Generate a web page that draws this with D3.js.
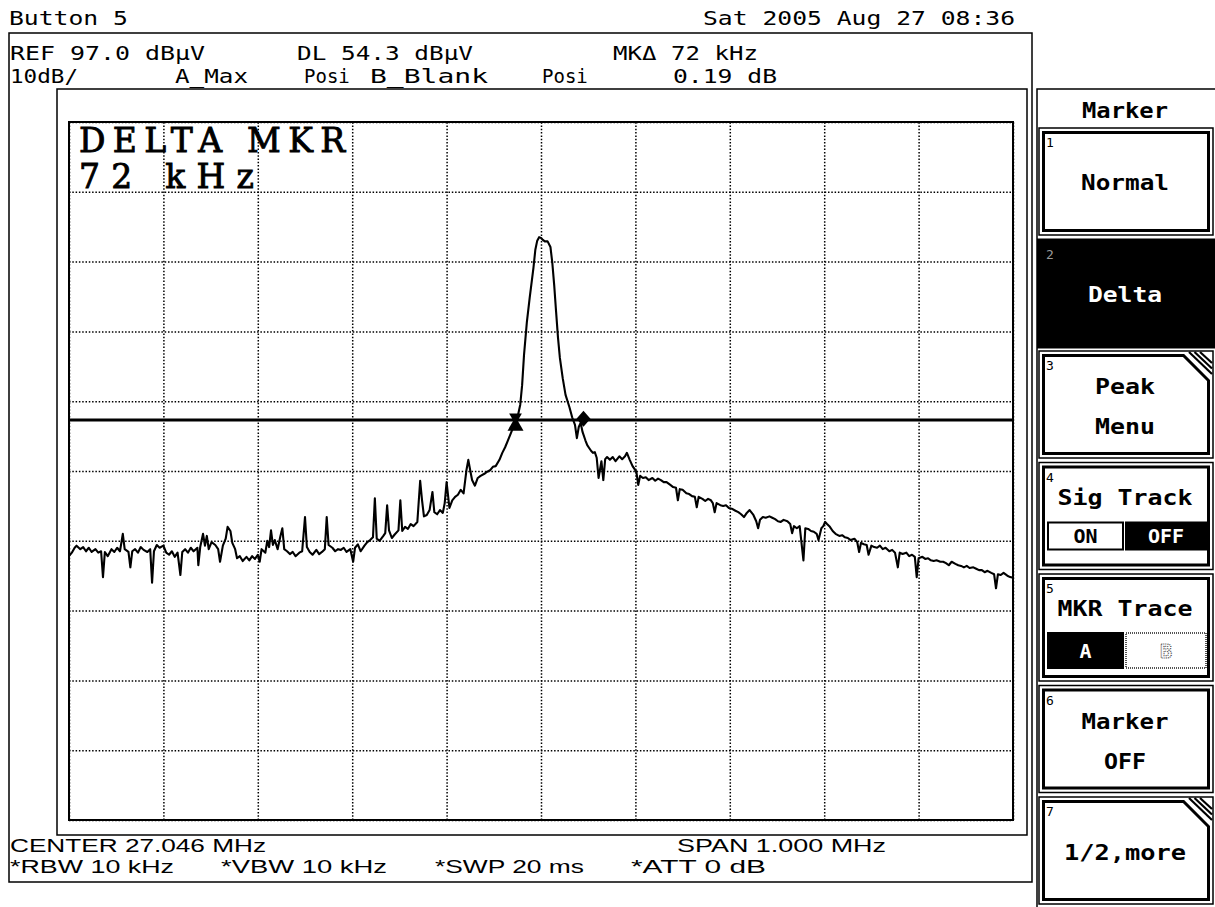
<!DOCTYPE html>
<html><head><meta charset="utf-8">
<script src="https://cdn.jsdelivr.net/npm/d3@7"></script>
<style>body{margin:0;background:#fff}svg{display:block}</style>
</head><body><svg id="c" width="1215" height="907"></svg>
<script>
// ---------- data ----------
const refLevel = 97.0;          // dBµV, top of screen
const dbPerDiv = 10;
const yDivisions = 10;
const xDivisions = 10;
const centerMHz = 27.046;
const spanKHz = 1000;
const displayLine = 54.3;       // DL, dBµV
const markerRef = [-27, 54.3];     // [offset kHz, dBµV]
const markerDelta = [45, 54.49];   // 72 kHz / 0.19 dB from ref
// trace A : [offset from center (kHz), level (dBµV)]
const traceA = [[-500,34.8],[-497,35.3],[-494,36.0],[-492,36.3],[-488,35.8],[-485,36.1],[-482,35.5],[-479,36.0],[-476,35.4],[-472,35.8],[-469,35.3],[-466,35.5],[-464,31.8],[-462,35.4],[-459,34.8],[-455,35.8],[-452,35.4],[-449,36.0],[-446,35.5],[-443,38.0],[-441,35.8],[-437,35.4],[-435,33.2],[-433,35.5],[-430,35.8],[-427,35.3],[-424,36.1],[-421,35.7],[-417,35.4],[-414,35.8],[-412,31.0],[-410,35.5],[-407,36.4],[-404,36.0],[-400,36.3],[-397,35.3],[-394,35.0],[-391,35.5],[-388,34.7],[-385,35.3],[-382,32.1],[-380,35.4],[-377,35.8],[-374,35.3],[-371,36.0],[-368,35.5],[-364,36.0],[-363,33.5],[-361,36.1],[-358,38.0],[-356,36.3],[-354,37.7],[-352,35.8],[-349,36.8],[-345,36.4],[-342,35.8],[-340,34.0],[-337,36.3],[-334,37.3],[-332,39.0],[-329,38.4],[-327,36.7],[-324,35.8],[-322,34.5],[-319,34.8],[-316,34.1],[-312,34.7],[-309,34.2],[-306,34.8],[-303,34.4],[-300,35.0],[-298,34.0],[-296,35.8],[-292,35.3],[-290,37.0],[-288,36.1],[-286,38.5],[-284,36.4],[-282,37.1],[-279,35.8],[-276,37.7],[-274,38.8],[-272,35.8],[-269,35.5],[-266,35.1],[-263,35.4],[-260,34.8],[-256,35.3],[-253,35.5],[-250,40.4],[-248,36.1],[-245,35.4],[-242,35.0],[-238,35.7],[-235,35.1],[-232,35.4],[-229,35.8],[-227,40.4],[-225,36.4],[-221,36.0],[-218,35.5],[-215,35.8],[-212,35.7],[-209,36.0],[-206,35.4],[-202,35.8],[-199,34.0],[-197,36.0],[-194,36.5],[-191,35.5],[-187,36.3],[-184,36.8],[-181,37.1],[-178,37.5],[-176,43.1],[-174,37.3],[-171,37.0],[-167,37.7],[-165,38.1],[-163,42.1],[-161,38.5],[-158,37.4],[-155,37.9],[-151,38.5],[-149,42.8],[-147,38.4],[-144,39.0],[-141,38.7],[-138,39.4],[-135,39.1],[-131,39.7],[-128,45.6],[-126,42.8],[-124,40.5],[-121,40.7],[-118,41.4],[-115,44.0],[-113,41.1],[-110,40.8],[-107,41.4],[-104,41.0],[-102,42.4],[-100,45.4],[-97,41.7],[-94,42.8],[-91,43.3],[-88,43.6],[-85,44.3],[-82,43.8],[-79,47.1],[-77,48.6],[-75,47.1],[-73,45.7],[-70,44.9],[-67,46.0],[-64,46.3],[-60,46.6],[-57,46.9],[-54,47.1],[-51,47.6],[-48,47.7],[-44,48.6],[-41,49.6],[-38,50.4],[-35,51.4],[-32,52.4],[-29,53.4],[-25,54.6],[-22,56.5],[-20,59.3],[-18,63.6],[-15,68.3],[-12,71.8],[-8,76.1],[-6,78.7],[-4,80.0],[-2,80.5],[0,80.4],[2,80.1],[4,79.9],[7,79.9],[10,79.1],[12,76.8],[14,73.6],[16,69.8],[18,66.1],[20,63.2],[23,60.3],[26,57.9],[30,56.2],[33,54.7],[36,53.6],[38,51.7],[40,53.3],[42,53.9],[44,52.6],[47,51.4],[49,50.7],[51,50.3],[53,49.9],[55,49.6],[57,49.7],[59,48.9],[61,46.0],[64,48.4],[66,45.7],[68,48.7],[70,49.0],[73,48.6],[76,49.0],[79,48.4],[83,49.1],[86,48.7],[89,49.1],[91,49.6],[94,48.6],[97,47.7],[101,46.9],[103,45.0],[105,46.3],[108,46.0],[111,46.1],[114,45.7],[118,46.0],[121,45.6],[124,45.9],[127,45.7],[130,45.4],[133,45.4],[137,45.0],[140,44.7],[143,44.6],[145,42.8],[147,44.4],[150,44.3],[154,43.8],[157,43.7],[160,43.4],[163,43.3],[165,41.8],[167,43.3],[171,43.0],[174,42.7],[177,43.0],[180,42.8],[182,42.4],[184,41.1],[186,42.4],[190,42.1],[193,42.0],[196,42.1],[199,41.7],[202,41.6],[206,41.3],[209,41.1],[212,40.8],[215,40.4],[218,41.0],[221,41.4],[225,40.7],[228,39.8],[230,38.8],[232,40.0],[235,40.4],[238,40.3],[242,40.5],[245,40.3],[248,40.1],[251,39.8],[254,39.7],[257,40.0],[261,39.8],[264,39.4],[266,38.1],[268,39.1],[271,38.8],[274,39.1],[278,34.2],[280,38.8],[283,38.7],[286,38.4],[289,38.3],[292,38.0],[294,37.1],[297,38.8],[299,39.1],[301,39.7],[303,39.4],[306,39.0],[309,38.4],[312,38.0],[316,37.7],[319,37.8],[322,37.5],[325,37.4],[328,37.1],[332,37.3],[335,36.8],[337,35.4],[339,36.7],[342,36.5],[345,36.4],[347,35.0],[350,36.3],[353,36.1],[356,36.0],[359,36.3],[362,35.8],[365,36.0],[369,35.5],[372,35.7],[375,35.3],[378,33.2],[380,35.3],[383,35.1],[387,35.3],[390,34.8],[393,35.0],[396,34.7],[398,31.8],[400,34.5],[404,34.7],[407,34.4],[410,34.5],[413,34.2],[416,34.1],[419,34.2],[423,34.0],[426,34.0],[429,33.8],[432,33.5],[435,34.0],[439,33.7],[442,33.5],[445,33.4],[448,33.2],[451,33.4],[454,33.1],[458,33.2],[461,33.0],[464,32.8],[467,32.8],[470,32.5],[473,32.7],[477,32.4],[480,32.2],[482,30.2],[484,32.2],[487,32.1],[490,32.4],[494,32.0],[497,31.8],[500,31.7]];

const headerLabels = [
  ["Button 5", 9, 25, 119], ["Sat 2005 Aug 27 08:36", 703, 25, 312],
  ["REF 97.0 dBµV", 10, 60, 195], ["DL 54.3 dBµV", 297, 60, 176], ["MKΔ 72 kHz", 613, 60, 145],
  ["10dB/", 10, 83, 68], ["A_Max", 175, 83, 73], ["Posi", 304, 83, 0],
  ["B_Blank", 370, 83, 118], ["Posi", 542, 83, 0], ["0.19 dB", 673, 83, 104]
];
const footerLabels = [
  ["CENTER 27.046 MHz", 10, 852, 256], ["SPAN 1.000 MHz", 677, 852, 209],
  ["*RBW 10 kHz", 10, 873, 164], ["*VBW 10 kHz", 221, 873, 166],
  ["*SWP 20 ms", 435, 873, 149], ["*ATT 0 dB", 631, 873, 135]
];
const panelTitle = "Marker";
const softKeys = [
  {n:"1", lines:["Normal"]},
  {n:"2", lines:["Delta"], active:true},
  {n:"3", lines:["Peak","Menu"], more:true},
  {n:"4", lines:["Sig Track"], toggle:["ON","OFF"], sel:1},
  {n:"5", lines:["MKR Trace"], toggle:["A","B"], sel:0},
  {n:"6", lines:["Marker","OFF"]},
  {n:"7", lines:["1/2,more"], more:true}
];

// ---------- drawing ----------
const svg = d3.select("#c");
const P = {l:69, r:1013, t:122, b:820};
const x = d3.scaleLinear().domain([-spanKHz/2, spanKHz/2]).range([P.l, P.r]);
const y = d3.scaleLinear().domain([refLevel - dbPerDiv*yDivisions, refLevel]).range([P.b, P.t]);
const MONO = "'DejaVu Sans Mono', monospace";

function txt(s, tx, ty, o = {}) {
  const t = svg.append("text").attr("x", tx).attr("y", ty).text(s)
    .attr("font-family", o.family || MONO).attr("font-size", o.size || 19)
    .attr("font-weight", o.weight || "normal").attr("fill", o.fill || "#000")
    .attr("text-anchor", o.anchor || "start");
  if (o.len) t.attr("textLength", o.len).attr("lengthAdjust", o.adj || "spacingAndGlyphs");
  if (o.ls) t.attr("letter-spacing", o.ls);
  return t;
}

// frames
svg.append("rect").attr("x", 9).attr("y", 33).attr("width", 1023).attr("height", 849)
  .attr("fill", "none").attr("stroke", "#000").attr("stroke-width", 1.5);
svg.append("rect").attr("x", 57).attr("y", 89).attr("width", 970).attr("height", 746)
  .attr("fill", "none").attr("stroke", "#000").attr("stroke-width", 1.5);

// grid via axes
const xTicks = d3.range(xDivisions + 1).map(i => -spanKHz/2 + i*spanKHz/xDivisions);
const yTicks = d3.range(yDivisions + 1).map(i => refLevel - i*dbPerDiv);
const gx = svg.append("g").attr("transform", `translate(0,${P.b})`)
  .call(d3.axisBottom(x).tickValues(xTicks).tickSize(-(P.b - P.t)).tickFormat(""));
const gy = svg.append("g").attr("transform", `translate(${P.l},0)`)
  .call(d3.axisLeft(y).tickValues(yTicks).tickSize(-(P.r - P.l)).tickFormat(""));
[gx, gy].forEach(g => {
  g.select(".domain").remove();
  g.selectAll(".tick line").attr("stroke", "#000").attr("stroke-width", 1.5).attr("stroke-dasharray", "1.5,1.8");
});

// plot border
svg.append("rect").attr("x", P.l).attr("y", P.t).attr("width", P.r - P.l).attr("height", P.b - P.t)
  .attr("fill", "none").attr("stroke", "#000").attr("stroke-width", 2);

// display line
svg.append("line").attr("x1", P.l).attr("x2", P.r).attr("y1", y(displayLine)).attr("y2", y(displayLine))
  .attr("stroke", "#000").attr("stroke-width", 3);

// trace
svg.append("path").datum(traceA)
  .attr("d", d3.line().x(d => x(d[0])).y(d => y(d[1])))
  .attr("fill", "none").attr("stroke", "#000").attr("stroke-width", 2.1).attr("stroke-linejoin", "round");

// markers
{
  const cx = x(markerRef[0]), cy = y(markerRef[1]);
  svg.append("path").attr("d", d3.symbol(d3.symbolTriangle, 110)())
    .attr("transform", `translate(${cx},${cy+6})`).attr("fill", "#000");
  svg.append("path").attr("d", d3.symbol(d3.symbolTriangle, 70)())
    .attr("transform", `translate(${cx},${cy-3}) rotate(180)`).attr("fill", "#000");
  const dx = x(markerDelta[0]), dy = y(markerDelta[1]);
  svg.append("path").attr("d", `M${dx},${dy-8}L${dx+7},${dy}L${dx},${dy+8}L${dx-7},${dy}Z`).attr("fill", "#000");
}

// big delta marker readout
txt("DELTA MKR", 79, 152, {family: "'DejaVu Serif', serif", size: 33, len: 266, adj: "spacing"})
  .attr("stroke", "#000").attr("stroke-width", 0.9);
txt("72 kHz", 79, 188, {family: "'DejaVu Serif', serif", size: 33, len: 175, adj: "spacing"})
  .attr("stroke", "#000").attr("stroke-width", 0.9);

// header / footer texts
headerLabels.forEach(d => txt(d[0], d[1], d[2], {len: d[3] || null, size: 19}));
footerLabels.forEach(d => txt(d[0], d[1], d[2], {len: d[3], size: 19, family: "'Liberation Sans', sans-serif"}));

// side panel
svg.append("path").attr("d", "M1037,907V89H1215").attr("fill", "none").attr("stroke", "#000").attr("stroke-width", 1.5);
txt(panelTitle, 1125, 118, {anchor: "middle", size: 21, len: 86, weight: "bold"});

const BX0 = 1039, BX1 = 1213, BH = 107, BT0 = 128, BSTEP = 111.5;
softKeys.forEach((k, i) => {
  const T = BT0 + i*BSTEP, B = T + BH;
  if (k.active) {
    svg.append("rect").attr("x", 1037).attr("y", T - 1).attr("width", 178).attr("height", BH + 3).attr("fill", "#000");
  } else {
    svg.append("rect").attr("x", BX0).attr("y", T).attr("width", BX1 - BX0).attr("height", BH)
      .attr("fill", "#fff").attr("stroke", "#000").attr("stroke-width", 1.5);
    const ix0 = BX0 + 4.5, ix1 = BX1 - 4.5, iy0 = T + 4.5, iy1 = B - 4.5;
    let d;
    if (k.more) {
      d = `M${ix0},${iy0}H${ix1-25}L${ix1},${iy0+25}V${iy1}H${ix0}Z`;
      for (let s = 1; s <= 3; s++) {
        const o = s*5.5;
        svg.append("line").attr("x1", ix1 - 25 + o).attr("y1", iy0 - 3.5).attr("x2", ix1 + 3.5).attr("y2", iy0 + 25 - o - 1)
          .attr("stroke", "#000").attr("stroke-width", 2.2);
      }
    } else {
      d = `M${ix0},${iy0}H${ix1}V${iy1}H${ix0}Z`;
    }
    svg.append("path").attr("d", d).attr("fill", "none").attr("stroke", "#000").attr("stroke-width", 3);
  }
  const fg = k.active ? "#fff" : "#000";
  txt(k.n, 1046, T + 19, {size: 13, fill: k.active ? "#999" : "#000"});
  const cxm = 1125;
  if (k.toggle) {
    txt(k.lines[0], cxm, T + 42, {anchor: "middle", size: 21, len: 135, weight: "bold"});
    k.toggle.forEach((lab, j) => {
      const bx = j === 0 ? 1048 : 1126, bw = j === 0 ? 75 : 80;
      const by = k.n === "4" ? T + 60 : T + 59, bh = k.n === "4" ? 27 : 35;
      const sel = j === k.sel;
      const r = svg.append("rect").attr("x", bx).attr("y", by).attr("width", bw).attr("height", bh)
        .attr("fill", sel ? "#000" : "#fff").attr("stroke", sel ? "#000" : (k.n === "5" ? "#555" : "#000"))
        .attr("stroke-width", 2);
      if (!sel && k.n === "5") r.attr("stroke-dasharray", "1,1");
      const t = txt(lab, bx + bw/2, by + bh/2 + 7, {anchor: "middle", size: 20, fill: sel ? "#fff" : "#000", weight: "bold"});
      if (!sel && k.n === "5") t.attr("fill", "#fff").attr("stroke", "#444").attr("stroke-width", 1.2).attr("stroke-dasharray", "1,1");
    });
  } else if (k.lines.length === 1) {
    const lens = {"Normal": 88, "Delta": 74, "1/2,more": 122};
    txt(k.lines[0], cxm, k.n === "7" ? T + 63 : T + 62, {anchor: "middle", size: 21, fill: fg, len: lens[k.lines[0]], weight: "bold"});
  } else {
    const lens = {"Peak": 60, "Menu": 60, "Marker": 87, "OFF": 42};
    txt(k.lines[0], cxm, T + 43, {anchor: "middle", size: 21, fill: fg, len: lens[k.lines[0]], weight: "bold"});
    txt(k.lines[1], cxm, T + 83, {anchor: "middle", size: 21, fill: fg, len: lens[k.lines[1]], weight: "bold"});
  }
});
</script></body></html>
